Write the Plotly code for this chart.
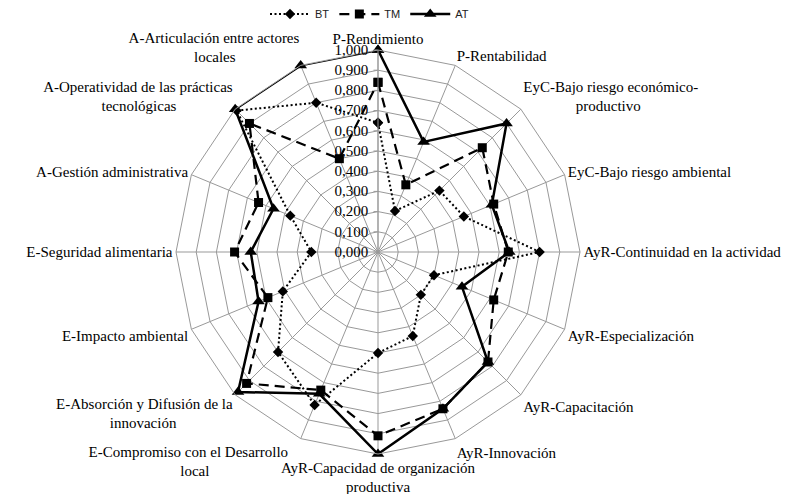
import plotly.graph_objects as go

categories = [
    "P-Rendimiento",
    "P-Rentabilidad",
    "EyC-Bajo riesgo económico-productivo",
    "EyC-Bajo riesgo ambiental",
    "AyR-Continuidad en la actividad",
    "AyR-Especialización",
    "AyR-Capacitación",
    "AyR-Innovación",
    "AyR-Capacidad de organización productiva",
    "E-Compromiso con el Desarrollo local",
    "E-Absorción y Difusión de la innovación",
    "E-Impacto ambiental",
    "E-Seguridad alimentaria",
    "A-Gestión administrativa",
    "A-Operatividad de las prácticas tecnológicas",
    "A-Articulación entre actores locales",
]

NB = "\u00a0"
# displayed (wrapped, visually centred) axis labels
category_labels = [
    "P-Rendimiento",
    "P-Rentabilidad",
    "EyC-Bajo riesgo económico-<br>" + NB * 14 + "productivo",
    "EyC-Bajo riesgo ambiental",
    "AyR-Continuidad en la actividad",
    "AyR-Especialización",
    "AyR-Capacitación",
    "AyR-Innovación",
    "AyR-Capacidad de organización<br>productiva",
    "E-Compromiso con el Desarrollo" + NB * 3 + "<br>local" + NB * 24,
    "E-Absorción y Difusión de la<br>innovación" + NB * 15,
    "E-Impacto ambiental",
    "E-Seguridad alimentaria",
    "A-Gestión administrativa",
    "A-Operatividad de las prácticas<br>tecnológicas" + NB * 15,
    "A-Articulación entre actores<br>locales" + NB * 17,
]

bt = [0.64, 0.22, 0.43, 0.46, 0.80, 0.30, 0.30, 0.45, 0.50, 0.82, 0.70, 0.51, 0.33, 0.47, 0.99, 0.80]
tm = [0.84, 0.36, 0.73, 0.62, 0.645, 0.62, 0.77, 0.84, 0.91, 0.74, 0.92, 0.59, 0.71, 0.64, 0.90, 0.50]
at = [1.00, 0.59, 0.90, 0.61, 0.65, 0.45, 0.77, 0.84, 1.00, 0.76, 0.98, 0.64, 0.63, 0.56, 1.00, 1.00]

radial_ticks = [0.0, 0.1, 0.2, 0.3, 0.4, 0.5, 0.6, 0.7, 0.8, 0.9, 1.0]
radial_ticktext = ["0,000", "0,100", "0,200", "0,300", "0,400", "0,500",
                   "0,600", "0,700", "0,800", "0,900", "1,000"]

series = [
    ("BT", bt, "2px,2.5px", "diamond", 8, 2),
    ("TM", tm, "10px,6px", "square", 9, 2.2),
    ("AT", at, "solid", "triangle-up", 11, 2.5),
]

fig = go.Figure()
for name, vals, dash, sym, msize, lw in series:
    fig.add_trace(go.Scatterpolar(
        r=vals + vals[:1],
        theta=categories + categories[:1],
        name=name,
        mode="lines+markers",
        line=dict(color="black", width=lw, dash=dash),
        marker=dict(symbol=sym, size=msize, color="black"),
    ))

fig.update_layout(
    width=794, height=494,
    paper_bgcolor="white", plot_bgcolor="white",
    margin=dict(l=168, r=222, t=42, b=48, autoexpand=False),
    font=dict(family="Liberation Serif", size=15, color="black"),
    showlegend=True,
    legend=dict(orientation="h", x=0.479, xanchor="center", y=1.089, yanchor="middle",
                font=dict(family="Liberation Sans", size=11, color="#222"),
                itemwidth=40),
    polar=dict(
        bgcolor="white",
        gridshape="linear",
        angularaxis=dict(
            direction="clockwise", rotation=90,
            tickvals=categories, ticktext=category_labels,
            showline=True, linecolor="#999", linewidth=1,
            gridcolor="#999", gridwidth=1,
            ticks="",
            tickfont=dict(family="Liberation Serif", size=15, color="black"),
        ),
        radialaxis=dict(
            range=[0, 1],
            angle=90,
            side="counterclockwise",
            tickvals=radial_ticks, ticktext=radial_ticktext,
            tickangle=90,
            showline=True, linecolor="#999", linewidth=1,
            gridcolor="#999", gridwidth=1,
            ticks="outside", ticklen=4, tickcolor="#999",
            tickfont=dict(family="Liberation Serif", size=15, color="black"),
        ),
    ),
)

fig.write_html("out.html")
